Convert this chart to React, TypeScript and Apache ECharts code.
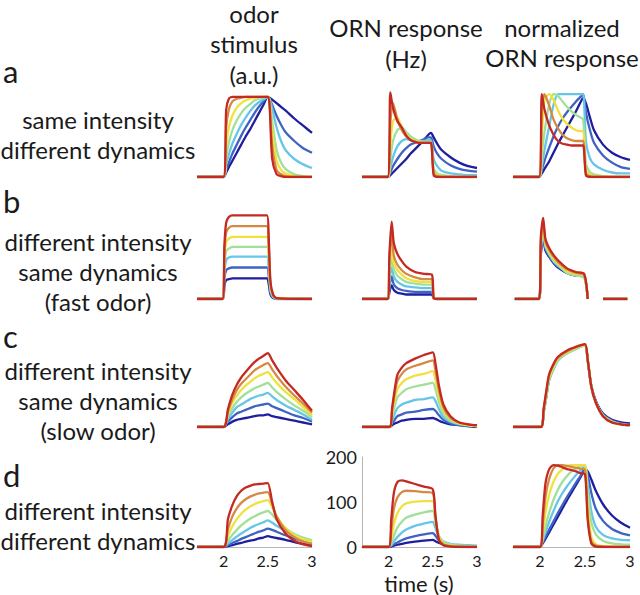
import React, { useEffect, useRef } from "react";
import * as echarts from "echarts";

// jet-like palette, lowest (dark blue) -> highest (red)
const COLORS = ["#1e1e9e", "#3f63c2", "#66c6e8", "#a2e09a", "#f0e23e", "#d48a45", "#c42a22"];

// ---- row a: same intensity, different dynamics ----
const T_STIM_A = [1.7, 2.0, 2.03, 2.06, 2.1, 2.15, 2.2, 2.25, 2.3, 2.35, 2.4, 2.45, 2.5, 2.52, 2.55, 2.6, 2.65, 2.7, 2.8, 2.9, 3.0];
const STIM_A = [
  [0, 0, 5, 11, 18, 27, 36, 45, 53, 62, 71, 80, 89, 88, 86, 82, 78, 74, 65, 57, 49],
  [0, 0, 8, 16, 26, 36, 46, 55, 63, 71, 78, 84, 89, 87, 80, 68, 58, 50, 40, 32, 27],
  [0, 0, 14, 25, 37, 48, 58, 66, 73, 79, 83, 86, 89, 87, 76, 55, 40, 30, 20, 14, 10],
  [0, 0, 22, 38, 52, 63, 71, 77, 81, 85, 87, 88, 89, 85, 62, 30, 16, 9, 3, 1, 0],
  [0, 0, 35, 55, 68, 77, 82, 85, 87, 88, 89, 89, 89, 84, 50, 18, 8, 4, 1, 0, 0],
  [0, 0, 55, 75, 84, 87, 88, 89, 89, 89, 89, 89, 89, 82, 35, 8, 3, 1, 0, 0, 0],
  [0, 0, 75, 87, 89, 89, 89, 89, 89, 89, 89, 89, 89, 80, 20, 3, 1, 0, 0, 0, 0],
];
const T_ORN_A = [1.7, 1.99, 2.02, 2.05, 2.1, 2.15, 2.2, 2.25, 2.3, 2.35, 2.4, 2.45, 2.48, 2.51, 2.55, 2.6, 2.7, 2.8, 2.9, 3.0];
const ORN_A = [
  [0, 0, 2, 5, 10, 15, 20, 26, 31, 36, 41, 47, 49, 44, 37, 30, 22, 16, 12, 10],
  [0, 0, 5, 12, 20, 27, 32, 36, 38, 40, 42, 44, 44, 34, 26, 20, 13, 9, 7, 6],
  [0, 0, 10, 22, 34, 40, 42, 41, 40, 40, 40, 41, 41, 20, 12, 7, 4, 3, 2, 2],
  [0, 0, 20, 40, 52, 55, 50, 45, 42, 40, 39, 39, 39, 10, 4, 2, 1, 0, 0, 0],
  [0, 0, 35, 62, 66, 55, 47, 42, 40, 39, 38, 38, 38, 6, 2, 1, 0, 0, 0, 0],
  [0, 0, 60, 82, 64, 52, 45, 41, 39, 38, 38, 38, 38, 4, 1, 0, 0, 0, 0, 0],
  [0, 0, 94, 77, 62, 55, 46, 41, 39, 38, 38, 38, 38, 2, 0, 0, 0, 0, 0, 0],
];
const NORM_A = [
  [0, 0, 4, 9, 17, 27, 37, 46, 55, 64, 73, 83, 88, 82, 68, 52, 36, 27, 22, 19],
  [0, 0, 8, 18, 32, 45, 56, 65, 72, 78, 84, 89, 92, 72, 54, 38, 24, 16, 11, 9],
  [0, 0, 12, 30, 55, 80, 92, 92, 92, 92, 92, 92, 92, 40, 22, 14, 8, 5, 4, 4],
  [0, 0, 25, 50, 80, 92, 90, 84, 78, 73, 69, 66, 64, 15, 6, 3, 1, 0, 0, 0],
  [0, 0, 45, 85, 92, 86, 74, 65, 59, 55, 52, 51, 51, 8, 3, 1, 0, 0, 0, 0],
  [0, 0, 75, 92, 80, 64, 54, 47, 43, 41, 40, 40, 40, 4, 1, 0, 0, 0, 0, 0],
  [0, 0, 92, 75, 58, 47, 40, 37, 36, 35, 35, 35, 35, 2, 0, 0, 0, 0, 0, 0],
];

// ---- row b: different intensity, same dynamics (fast odor) ----
const T_STIM_B = [1.7, 1.99, 2.01, 2.03, 2.06, 2.1, 2.49, 2.51, 2.53, 2.56, 2.6, 3.0];
const STIM_B = [
  [0, 0, 15, 21, 22, 23, 23, 17, 5, 1, 0, 0],
  [0, 0, 23, 32, 34, 35, 35, 26, 7, 2, 0, 0],
  [0, 0, 31, 43, 46, 47, 47, 35, 10, 2, 0, 0],
  [0, 0, 38, 53, 56, 58, 58, 44, 12, 3, 1, 0],
  [0, 0, 45, 63, 67, 69, 69, 52, 15, 4, 1, 0],
  [0, 0, 52, 74, 79, 81, 81, 61, 17, 4, 1, 0],
  [0, 0, 60, 85, 91, 93, 93, 70, 20, 5, 1, 0],
];
const T_ORN_B = [1.7, 1.99, 2.01, 2.035, 2.06, 2.1, 2.15, 2.2, 2.3, 2.4, 2.49, 2.51, 2.55, 2.7, 3.0];
const ORN_B = [
  [0, 0, 8, 15, 10, 7, 6, 5, 5, 5, 5, 1, 0, 0, 0],
  [0, 0, 13, 25, 16, 12, 10, 9, 8, 8, 8, 1, 0, 0, 0],
  [0, 0, 20, 35, 25, 19, 16, 14, 13, 12, 12, 1, 0, 0, 0],
  [0, 0, 28, 45, 33, 26, 22, 19, 17, 16, 16, 1, 0, 0, 0],
  [0, 0, 35, 55, 40, 32, 27, 23, 20, 19, 19, 1, 0, 0, 0],
  [0, 0, 45, 70, 48, 38, 32, 28, 24, 22, 22, 1, 0, 0, 0],
  [0, 0, 50, 86, 62, 50, 42, 36, 30, 28, 27, 1, 0, 0, 0],
];
const T_NORM_B = [1.72, 1.99, 2.01, 2.035, 2.06, 2.1, 2.15, 2.2, 2.3, 2.4, 2.49, 2.53, 2.6, 2.7, 2.97];
const NORM_B = [
  [0, 0, 50, 68, 54, 47, 40, 35, 29, 26, 25, 0, null, 0, 0],
  [0, 0, 52, 70, 56, 48, 41, 36, 29, 26, 25, 0, null, 0, 0],
  [0, 0, 55, 74, 58, 50, 42, 37, 30, 27, 25, 0, null, 0, 0],
  [0, 0, 58, 78, 60, 51, 43, 38, 29, 26, 24, 0, null, 0, 0],
  [0, 0, 62, 82, 62, 53, 45, 40, 31, 28, 26, 0, null, 0, 0],
  [0, 0, 66, 86, 64, 55, 47, 41, 33, 29, 27, 0, null, 0, 0],
  [0, 0, 70, 90, 67, 57, 49, 43, 34, 30, 28, 0, null, 0, 0],
];

// ---- row c: different intensity, same dynamics (slow odor) ----
const T_STIM_C = [1.7, 2.0, 2.05, 2.1, 2.15, 2.2, 2.25, 2.3, 2.35, 2.4, 2.45, 2.5, 2.55, 2.6, 2.7, 2.8, 2.9, 3.0];
const STIM_C = [
  [0, 0, 3, 6, 8, 9, 10, 11, 12, 13, 13, 14, 12, 11, 9, 7, 5, 3],
  [0, 0, 6, 11, 15, 17, 19, 21, 23, 24, 25, 26, 23, 21, 17, 13, 10, 6],
  [0, 0, 9, 16, 22, 25, 28, 31, 33, 35, 36, 38, 34, 30, 24, 19, 14, 8],
  [0, 0, 12, 21, 28, 33, 37, 40, 43, 45, 47, 49, 44, 39, 31, 24, 18, 11],
  [0, 0, 15, 27, 35, 41, 46, 50, 54, 57, 59, 61, 55, 49, 39, 31, 22, 13],
  [0, 0, 17, 31, 41, 48, 53, 58, 63, 66, 69, 71, 64, 57, 45, 35, 26, 16],
  [0, 0, 20, 36, 47, 55, 61, 67, 72, 76, 79, 82, 74, 66, 52, 41, 30, 18],
];
const T_ORN_C = [1.7, 2.01, 2.04, 2.07, 2.1, 2.15, 2.2, 2.3, 2.4, 2.5, 2.53, 2.57, 2.62, 2.7, 2.8, 2.9, 3.0];
const ORN_C = [
  [0, 0, 2, 4, 5, 7, 8, 9, 9, 10, 9, 7, 5, 3, 2, 1, 0],
  [0, 0, 4, 8, 12, 14, 16, 17, 19, 20, 18, 13, 8, 4, 2, 1, 1],
  [0, 0, 7, 15, 21, 25, 27, 30, 31, 33, 29, 20, 11, 6, 3, 2, 1],
  [0, 0, 11, 23, 33, 38, 42, 45, 47, 49, 42, 28, 15, 7, 4, 2, 1],
  [0, 0, 15, 30, 42, 49, 53, 57, 59, 62, 53, 35, 19, 9, 4, 2, 1],
  [0, 0, 18, 37, 51, 59, 64, 68, 71, 74, 63, 41, 22, 10, 5, 3, 2],
  [0, 0, 21, 42, 58, 66, 71, 76, 80, 83, 71, 46, 25, 12, 5, 3, 2],
];
const NORM_C = [
  [0, 0, 17, 35, 53, 66, 76, 83, 88, 91, 74, 46, 29, 15, 8, 5, 4],
  [0, 0, 16, 34, 52, 65, 75, 82, 87, 91, 74, 45, 28, 14, 7, 4, 3],
  [0, 0, 15, 33, 51, 64, 74, 82, 87, 91, 74, 45, 27, 13, 6, 3, 2],
  [0, 0, 16, 34, 52, 65, 75, 82, 87, 91, 74, 45, 27, 13, 6, 3, 2],
  [0, 0, 18, 37, 55, 67, 76, 83, 88, 91, 75, 45, 27, 12, 5, 3, 2],
  [0, 0, 19, 39, 57, 69, 77, 84, 89, 92, 75, 45, 27, 12, 5, 3, 2],
  [0, 0, 20, 40, 58, 70, 78, 85, 89, 92, 75, 45, 27, 12, 5, 3, 2],
];

// ---- row d: different intensity, different dynamics (ORN response in Hz) ----
const T_STIM_D = [1.7, 2.0, 2.05, 2.1, 2.15, 2.2, 2.25, 2.3, 2.35, 2.4, 2.45, 2.5, 2.55, 2.6, 2.7, 2.8, 2.9, 3.0];
const STIM_D = [
  [0, 0, 2, 4, 7, 9, 12, 14, 16, 19, 21, 24, 22, 20, 16, 11, 7, 4],
  [0, 0, 4, 9, 13, 18, 22, 26, 30, 34, 37, 41, 38, 34, 26, 19, 13, 9],
  [0, 0, 8, 16, 23, 30, 36, 42, 47, 51, 55, 59, 54, 47, 36, 26, 19, 14],
  [0, 0, 14, 27, 38, 48, 56, 63, 68, 73, 77, 80, 72, 60, 42, 29, 21, 15],
  [0, 0, 25, 46, 62, 74, 83, 90, 95, 99, 102, 104, 88, 68, 42, 26, 17, 11],
  [0, 0, 40, 68, 86, 98, 106, 112, 116, 119, 121, 122, 96, 68, 38, 22, 12, 7],
  [0, 0, 62, 93, 113, 125, 132, 136, 139, 140, 141, 142, 100, 62, 30, 14, 6, 2],
];
const T_ORN_D = [1.7, 2.0, 2.03, 2.06, 2.1, 2.15, 2.2, 2.3, 2.4, 2.5, 2.53, 2.57, 2.62, 2.7, 2.8, 2.9, 3.0];
const ORN_D = [
  [0, 0, 1, 3, 5, 7, 9, 12, 14, 16, 13, 9, 6, 4, 2, 1, 1],
  [0, 0, 2, 6, 10, 15, 19, 24, 28, 31, 25, 15, 9, 5, 3, 2, 2],
  [0, 0, 4, 12, 22, 32, 39, 47, 52, 56, 42, 22, 12, 7, 5, 4, 3],
  [0, 0, 8, 25, 43, 56, 65, 72, 77, 80, 55, 25, 12, 6, 3, 2, 1],
  [0, 0, 18, 50, 75, 90, 97, 101, 102, 102, 62, 22, 8, 3, 1, 0, 0],
  [0, 0, 35, 85, 110, 122, 125, 124, 122, 120, 68, 18, 6, 2, 1, 0, 0],
  [0, 0, 60, 120, 144, 148, 146, 140, 134, 128, 70, 15, 4, 1, 0, 0, 0],
];
const T_NORM_D = [1.7, 2.0, 2.03, 2.06, 2.1, 2.15, 2.2, 2.25, 2.3, 2.35, 2.4, 2.45, 2.5, 2.53, 2.57, 2.62, 2.7, 2.8, 2.9, 3.0];
const NORM_D = [
  [0, 0, 8, 18, 32, 50, 68, 86, 104, 121, 138, 155, 172, 168, 150, 125, 95, 70, 54, 43],
  [0, 0, 10, 22, 38, 57, 76, 94, 111, 127, 143, 158, 175, 160, 120, 85, 58, 40, 31, 26],
  [0, 0, 14, 32, 55, 80, 102, 120, 135, 148, 160, 170, 180, 140, 80, 45, 27, 19, 16, 15],
  [0, 0, 18, 45, 75, 105, 128, 145, 158, 168, 175, 180, 182, 120, 55, 28, 14, 8, 6, 5],
  [0, 0, 30, 75, 115, 145, 163, 173, 180, 182, 182, 182, 182, 90, 22, 6, 2, 1, 0, 0],
  [0, 0, 50, 110, 150, 175, 182, 182, 180, 178, 176, 174, 172, 70, 12, 3, 1, 0, 0, 0],
  [0, 0, 70, 140, 172, 182, 181, 177, 173, 171, 168, 164, 162, 60, 8, 1, 0, 0, 0, 0],
];

// tick labels
const X_TICKS = [2, 2.5, 3];
const Y_TICKS_HZ = [0, 100, 200];

const COL_HEADERS = [
  { lines: ["odor", "stimulus", "(a.u.)"], x: 254, ys: [13, 43, 74] },
  { lines: ["ORN response", "(Hz)"], x: 406, ys: [27, 58] },
  { lines: ["normalized", "ORN response"], x: 562, ys: [27, 57] },
];
const ROW_LETTERS = ["a", "b", "c", "d"];
const ROW_LABELS = [
  ["same intensity", "different dynamics"],
  ["different intensity", "same dynamics", "(fast odor)"],
  ["different intensity", "same dynamics", "(slow odor)"],
  ["different intensity", "different dynamics"],
];

const PANELS = [
  [T_STIM_A, STIM_A], [T_ORN_A, ORN_A], [T_ORN_A, NORM_A],
  [T_STIM_B, STIM_B], [T_ORN_B, ORN_B], [T_NORM_B, NORM_B],
  [T_STIM_C, STIM_C], [T_ORN_C, ORN_C], [T_ORN_C, NORM_C],
  [T_STIM_D, STIM_D], [T_ORN_D, ORN_D], [T_NORM_D, NORM_D],
];

// layout (pixels)
const COL_LEFT = [197, 362, 513];
const COL_W = [115, 115, 117];
const ROW_BASE = [177, 299, 427, 547];
const PANEL_H = 90;
const FONT = "Lato, 'Open Sans', sans-serif";
const TXT = "#1a1a1a";

export default function App() {
  const ref = useRef<HTMLDivElement>(null);
  useEffect(() => {
    if (!ref.current) return;
    const chart = echarts.init(ref.current, undefined, { renderer: "svg" });
    const grid: any[] = [];
    const xAxis: any[] = [];
    const yAxis: any[] = [];
    const series: any[] = [];
    PANELS.forEach(([T, vals]: any, p) => {
      const r = Math.floor(p / 3);
      const c = p % 3;
      const bottom = r === 3;
      grid.push({ left: COL_LEFT[c], top: ROW_BASE[r] - PANEL_H, width: COL_W[c], height: PANEL_H });
      xAxis.push({
        type: "value",
        gridIndex: p,
        min: 1.7,
        max: 3,
        show: bottom,
        axisLine: { show: bottom, onZero: false, lineStyle: { color: "#b5b5b5", width: 1 } },
        axisTick: { show: false },
        splitLine: { show: false },
        axisLabel: {
          show: bottom,
          customValues: X_TICKS,
          formatter: (v: number) => String(v),
          fontSize: 16,
          lineHeight: 16,
          fontFamily: FONT,
          color: TXT,
          margin: 5,
        },
      });
      const hz = p === 10;
      yAxis.push({
        type: "value",
        gridIndex: p,
        min: 0,
        max: bottom ? 200 : 100,
        show: hz,
        axisLine: { show: hz, lineStyle: { color: "#b5b5b5", width: 1 } },
        axisTick: { show: false },
        splitLine: { show: false },
        axisLabel: {
          show: hz,
          customValues: Y_TICKS_HZ,
          fontSize: 18,
          fontFamily: FONT,
          color: TXT,
          margin: 5,
        },
      });
      (vals as (number | null)[][]).forEach((v, k) => {
        series.push({
          type: "line",
          xAxisIndex: p,
          yAxisIndex: p,
          data: (T as number[]).map((t, i) => [t, v[i]]),
          showSymbol: false,
          smooth: 0.25,
          connectNulls: false,
          lineStyle: { color: COLORS[k], width: 2.3 },
          itemStyle: { color: COLORS[k] },
          z: 2 + k,
          silent: true,
        });
      });
    });

    const graphic: any[] = [];
    COL_HEADERS.forEach((h) => {
      h.lines.forEach((s, i) => {
        graphic.push({
          type: "text",
          x: h.x,
          y: h.ys[i],
          style: { text: s, font: `24px ${FONT}`, fill: TXT, textAlign: "center", textVerticalAlign: "middle" },
        });
      });
    });
    const letterY = [71, 201, 336, 475];
    const labelY0 = [119, 241, 370, 510];
    ROW_LETTERS.forEach((l, r) => {
      graphic.push({
        type: "text",
        x: 3,
        y: letterY[r],
        style: { text: l, font: `31px ${FONT}`, fill: TXT, textAlign: "left", textVerticalAlign: "middle" },
      });
      ROW_LABELS[r].forEach((s, i) => {
        graphic.push({
          type: "text",
          x: 98,
          y: labelY0[r] + i * 30,
          style: { text: s, font: `24px ${FONT}`, fill: TXT, textAlign: "center", textVerticalAlign: "middle" },
        });
      });
    });
    graphic.push({
      type: "text",
      x: 419,
      y: 583,
      style: { text: "time (s)", font: `22px ${FONT}`, fill: TXT, textAlign: "center", textVerticalAlign: "middle" },
    });

    chart.setOption({
      animation: false,
      backgroundColor: "#ffffff",
      grid,
      xAxis,
      yAxis,
      series,
      graphic,
    });
    return () => chart.dispose();
  }, []);
  return (
    <div
      ref={ref}
      style={{ position: "fixed", left: 0, top: 0, width: 640, height: 595, background: "#fff" }}
    />
  );
}
